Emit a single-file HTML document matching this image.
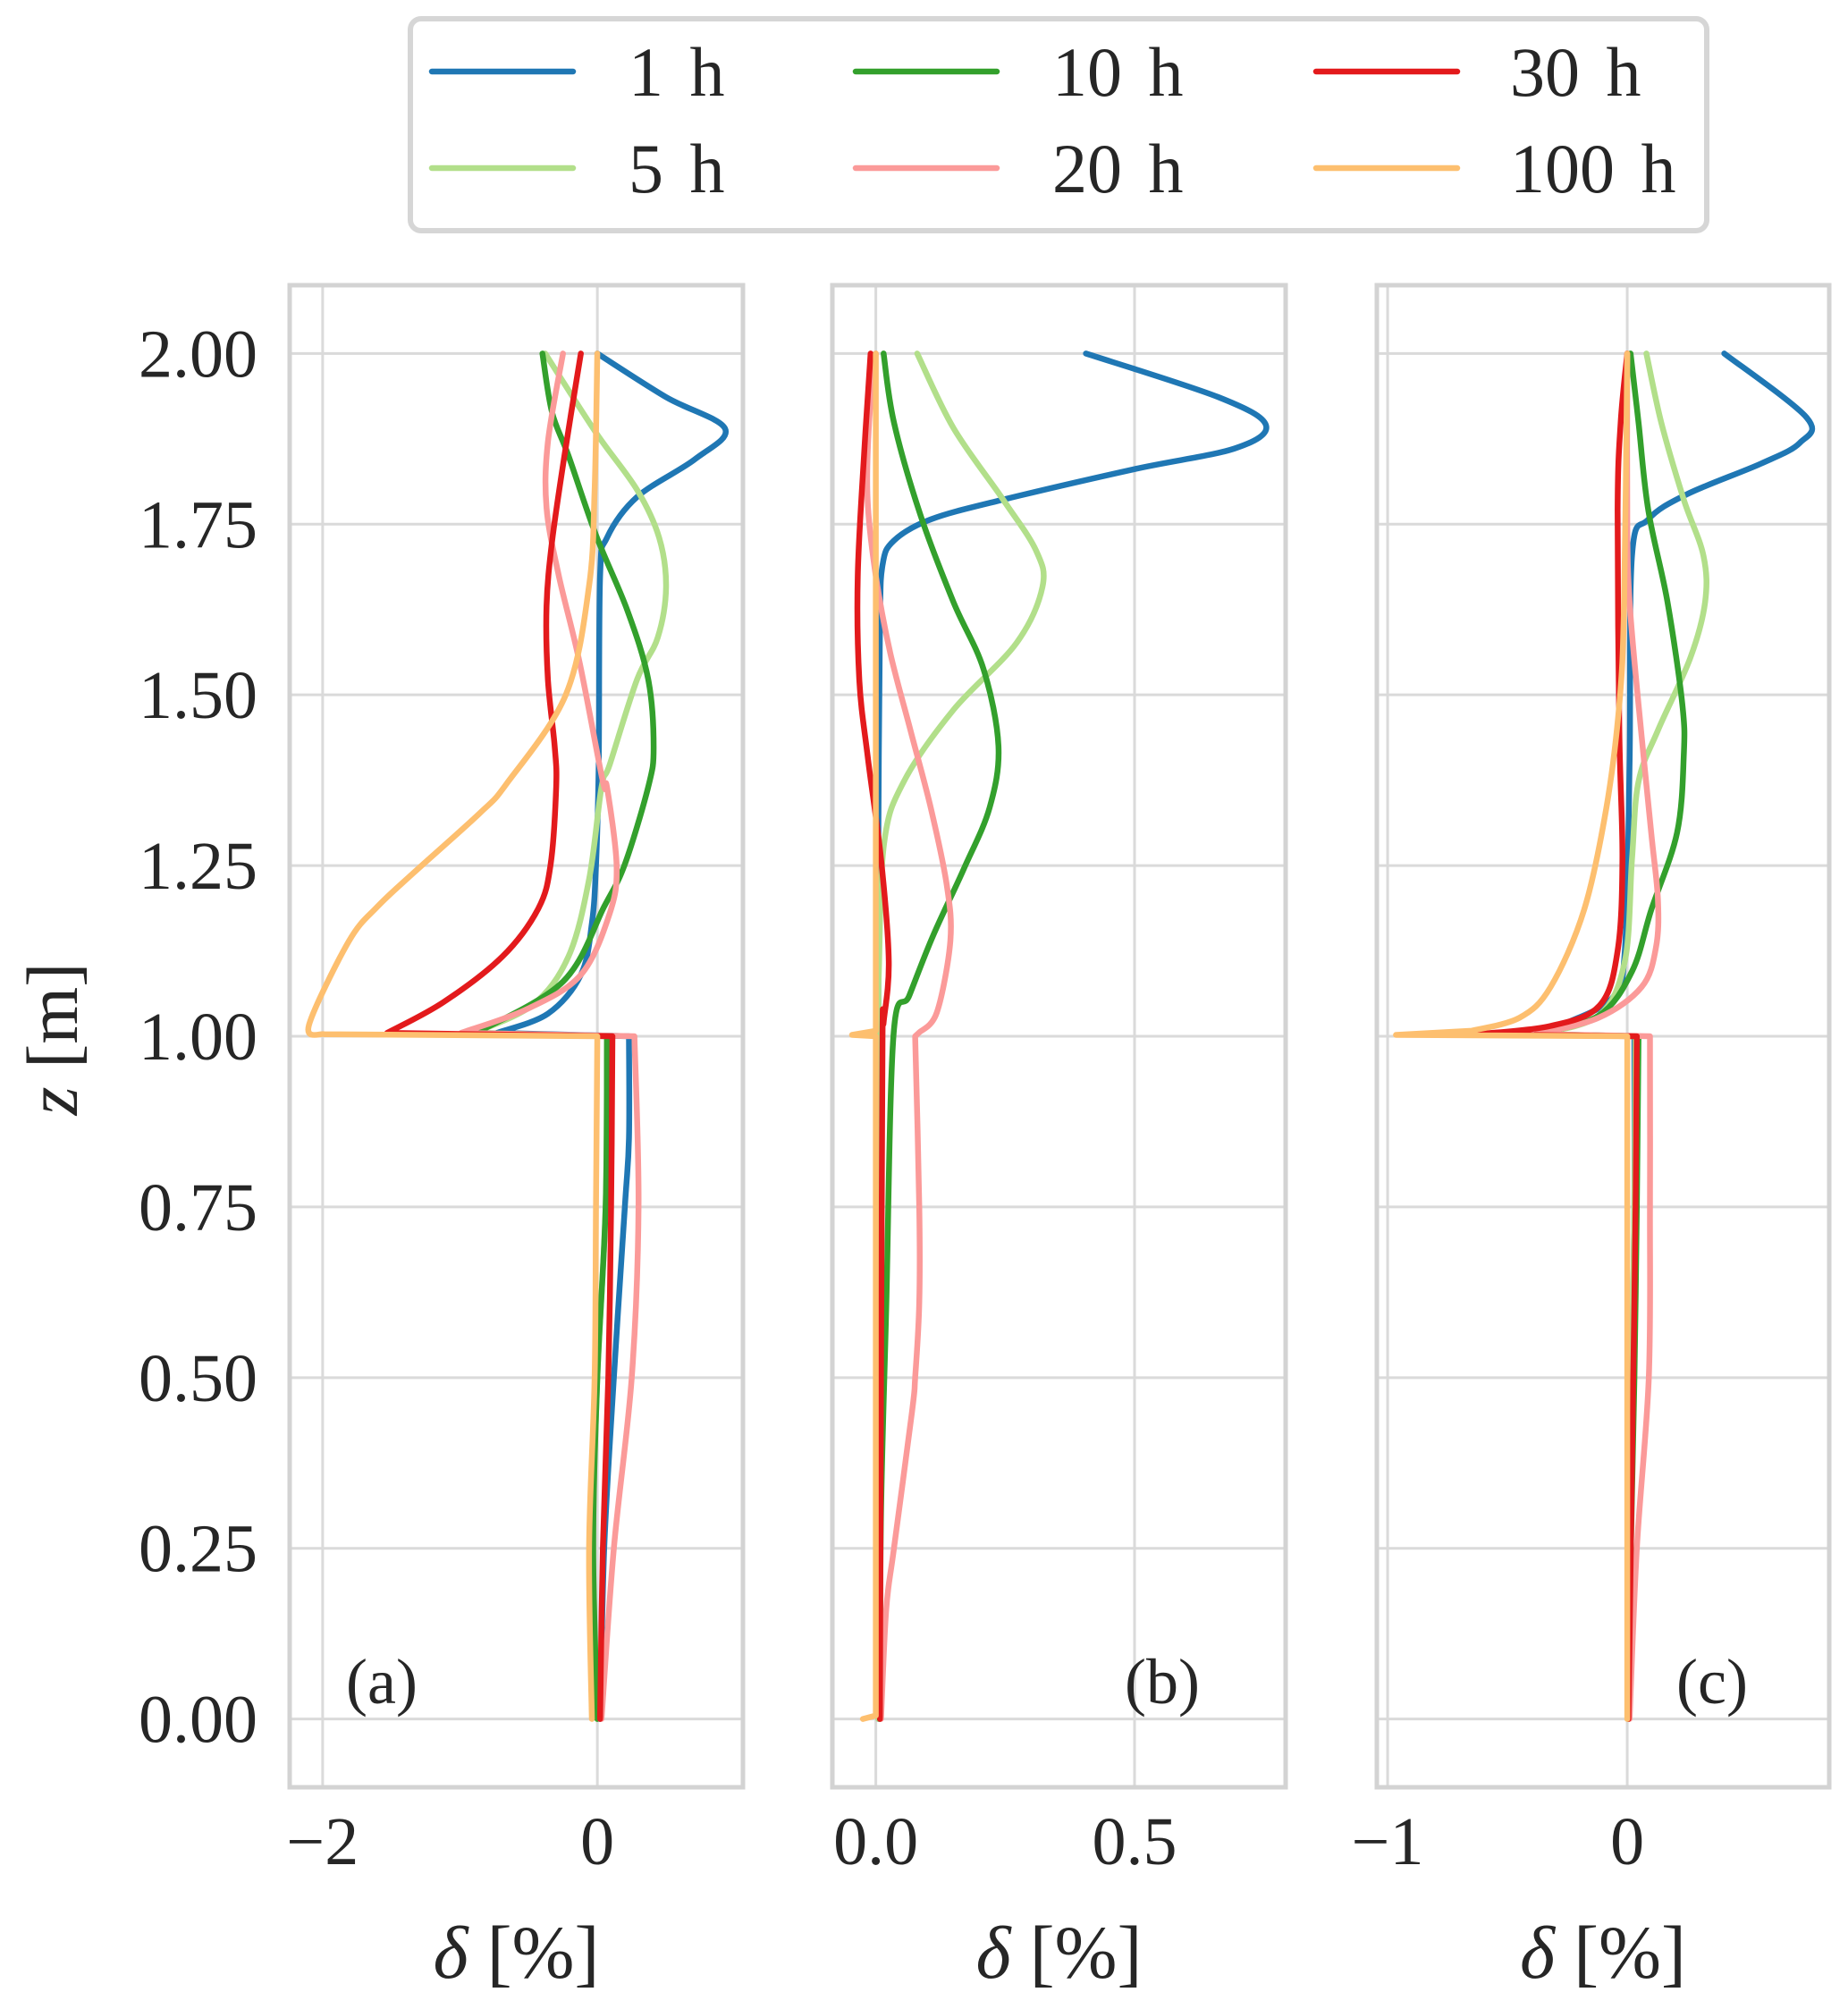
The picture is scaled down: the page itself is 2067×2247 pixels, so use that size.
<!DOCTYPE html>
<html><head><meta charset="utf-8"><style>
html,body{margin:0;padding:0;background:#fff;}
svg{display:block;}
text{font-family:"Liberation Serif","DejaVu Serif",serif;fill:#262626;}
</style></head><body>
<svg id="chart" width="2067" height="2247" viewBox="0 0 2067 2247" xmlns="http://www.w3.org/2000/svg">
<g id="legend">
<rect x="459" y="21" width="1450" height="237" rx="12" fill="#fff" stroke="#d6d6d6" stroke-width="6"/>
</g>
<g id="axes"></g>
<text transform="translate(86,1162) rotate(-90)" text-anchor="middle" font-size="82"><tspan font-style="italic">z</tspan> [m]</text>
</svg>
<script>
// ---- data (z in m, delta in %) ----
const legendLabels = ["1 h","5 h","10 h","20 h","30 h","100 h"];
const seriesColors = ["#1f77b4","#b2df8a","#33a02c","#fb9a99","#e31a1c","#fdbf6f"];
const panelLabels = ["(a)","(b)","(c)"];
const yTicks = [0,0.25,0.5,0.75,1.0,1.25,1.5,1.75,2.0];
const yTickLabels = ["0.00","0.25","0.50","0.75","1.00","1.25","1.50","1.75","2.00"];
const xTicksA = [-2,0]; const xTickLabelsA = ["\u22122","0"];
const xTicksB = [0,0.5]; const xTickLabelsB = ["0.0","0.5"];
const xTicksC = [-1,0]; const xTickLabelsC = ["\u22121","0"];

// Panel (a)
const a1_z = [2.0,1.936,1.89,1.845,1.79,1.73,1.674,1.4,1.25,1.165,1.09,1.033,1.005,1.0,0.85,0.75,0.5,0.25,0.0];
const a1_d = [0.0,0.5,0.93,0.71,0.29,0.07,0.02,0.01,-0.01,-0.04,-0.12,-0.36,-0.73,0.23,0.23,0.2,0.12,0.05,0.02];
const a5_z = [2.0,1.884,1.80,1.73,1.658,1.584,1.523,1.398,1.365,1.23,1.117,1.046,1.005,1.0,0.75,0.5,0.25,0.0];
const a5_d = [-0.38,-0.01,0.29,0.45,0.5,0.44,0.29,0.09,0.03,-0.06,-0.21,-0.47,-0.9,0.07,0.06,0.0,-0.03,0.0];
const a10_z = [2.0,1.914,1.85,1.734,1.623,1.523,1.423,1.365,1.252,1.19,1.08,1.005,1.0,0.75,0.5,0.25,0.0];
const a10_d = [-0.4,-0.33,-0.21,-0.01,0.22,0.37,0.41,0.37,0.2,0.05,-0.25,-0.88,0.07,0.06,0.0,-0.03,0.0];
const a20_z = [2.0,1.87,1.774,1.674,1.548,1.373,1.365,1.25,1.18,1.09,1.04,1.005,1.0,0.75,0.5,0.25,0.0];
const a20_d = [-0.25,-0.36,-0.37,-0.28,-0.13,0.04,0.07,0.14,0.09,-0.12,-0.51,-0.99,0.27,0.3,0.25,0.12,0.03];
const a30_z = [2.0,1.85,1.724,1.63,1.523,1.423,1.365,1.252,1.187,1.117,1.05,1.005,1.0,0.75,0.5,0.25,0.0];
const a30_d = [-0.12,-0.24,-0.33,-0.37,-0.36,-0.31,-0.3,-0.34,-0.43,-0.69,-1.12,-1.53,0.11,0.1,0.08,0.04,0.02];
const a100_z = [2.0,1.8,1.66,1.5,1.37,1.326,1.239,1.19,1.139,1.016,1.003,1.0,0.75,0.5,0.25,0.0];
const a100_d = [0.0,-0.02,-0.06,-0.23,-0.66,-0.86,-1.34,-1.6,-1.81,-2.1,-1.99,0.0,-0.01,-0.02,-0.06,-0.04];

// Panel (b)
const b1_z = [2.0,1.936,1.895,1.861,1.831,1.786,1.757,1.726,1.69,1.6,1.3,1.02,1.0,0.5,0.0];
const b1_d = [0.406,0.662,0.754,0.694,0.502,0.246,0.106,0.035,0.013,0.008,0.005,0.005,0.005,0.005,0.005];
const b5_z = [2.0,1.891,1.786,1.711,1.658,1.576,1.478,1.373,1.283,1.1,1.0,0.5,0.0];
const b5_d = [0.08,0.15,0.246,0.31,0.322,0.272,0.15,0.054,0.016,0.006,0.005,0.005,0.005];
const b10_z = [2.0,1.899,1.764,1.636,1.538,1.425,1.335,1.245,1.148,1.06,1.0,0.6,0.3,0.0];
const b10_d = [0.015,0.035,0.086,0.15,0.208,0.237,0.22,0.17,0.111,0.065,0.034,0.02,0.01,0.008];
const b20_z = [2.0,1.899,1.786,1.674,1.561,1.448,1.335,1.222,1.14,1.035,1.005,1.0,0.75,0.61,0.5,0.45,0.25,0.16,0.0];
const b20_d = [0.0,-0.013,-0.016,0.0,0.028,0.067,0.106,0.137,0.144,0.118,0.083,0.076,0.084,0.084,0.076,0.07,0.035,0.02,0.01];
const b30_z = [2.0,1.861,1.674,1.523,1.411,1.26,1.11,1.02,1.0,0.5,0.0];
const b30_d = [-0.01,-0.022,-0.035,-0.032,-0.016,0.01,0.025,0.015,0.013,0.01,0.008];
const b100_z = [2.0,1.5,1.008,1.002,1.0,0.5,0.005,0.0];
const b100_d = [0.0,0.0,0.0,-0.046,0.0,0.0,0.0,-0.025];

// Panel (c)
const c1_z = [2.0,1.906,1.869,1.839,1.794,1.757,1.704,1.4,1.125,1.057,1.02,1.003,1.0,0.75,0.5,0.25,0.0];
const c1_d = [0.405,0.749,0.72,0.56,0.25,0.088,0.02,0.01,-0.01,-0.06,-0.25,-0.38,0.03,0.03,0.02,0.01,0.005];
const c5_z = [2.0,1.899,1.786,1.704,1.636,1.554,1.448,1.373,1.26,1.11,1.03,1.003,1.0,0.75,0.5,0.25,0.0];
const c5_d = [0.08,0.142,0.236,0.318,0.325,0.263,0.128,0.047,0.02,-0.01,-0.12,-0.38,0.035,0.03,0.02,0.01,0.005];
const c10_z = [2.0,1.899,1.77,1.636,1.486,1.411,1.298,1.185,1.095,1.03,1.003,1.0,0.75,0.5,0.25,0.0];
const c10_d = [0.014,0.047,0.088,0.168,0.23,0.236,0.208,0.1,0.02,-0.12,-0.38,0.047,0.04,0.03,0.015,0.005];
const c20_z = [2.0,1.75,1.636,1.486,1.298,1.2,1.13,1.072,1.027,1.003,1.0,0.75,0.5,0.25,0.0];
const c20_d = [0.0,0.0,0.01,0.047,0.1,0.128,0.12,0.06,-0.12,-0.38,0.095,0.095,0.09,0.04,0.01];
const c30_z = [2.0,1.9,1.77,1.448,1.26,1.125,1.045,1.015,1.003,1.0,0.75,0.5,0.25,0.0];
const c30_d = [0.0,-0.027,-0.04,-0.033,-0.02,-0.04,-0.115,-0.32,-0.63,0.04,0.035,0.025,0.015,0.005];
const c100_z = [2.0,1.636,1.486,1.335,1.185,1.072,1.027,1.008,1.002,1.0,0.5,0.0];
const c100_d = [0.0,-0.013,-0.033,-0.087,-0.18,-0.32,-0.45,-0.65,-0.965,0.0,0.0,0.0];

const panelZ = [[a1_z,a5_z,a10_z,a20_z,a30_z,a100_z],[b1_z,b5_z,b10_z,b20_z,b30_z,b100_z],[c1_z,c5_z,c10_z,c20_z,c30_z,c100_z]];
const panelD = [[a1_d,a5_d,a10_d,a20_d,a30_d,a100_d],[b1_d,b5_d,b10_d,b20_d,b30_d,b100_d],[c1_d,c5_d,c10_d,c20_d,c30_d,c100_d]];
const panelXTicks = [xTicksA,xTicksB,xTicksC];
const panelXTickLabels = [xTickLabelsA,xTickLabelsB,xTickLabelsC];
const panelXLim = [[-2.24,1.06],[-0.084,0.792],[-1.045,0.843]];
const zLim = [-0.1,2.1];

// ---- layout ----
const NS = "http://www.w3.org/2000/svg";
const svg = document.getElementById('chart');
const axesG = document.getElementById('axes');
const panelBox = [[324,831],[931,1438],[1540,2046]];
const yTop = 319, yBot = 1999;
const panelLabelX = [427,1300,1915];
function mk(tag, attrs, parent){ const e=document.createElementNS(NS,tag); for(const k in attrs) e.setAttribute(k,attrs[k]); (parent||svg).appendChild(e); return e; }
function yScale(z){ return yBot - (z - zLim[0])/(zLim[1]-zLim[0])*(yBot-yTop); }
function xScale(p, v){ const [l,r]=panelBox[p]; const [a,b]=panelXLim[p]; return l + (v-a)/(b-a)*(r-l); }

// smooth path: Catmull-Rom within runs, straight across near-horizontal jumps
function smoothPath(pts){
  const runs=[]; let cur=[pts[0]];
  for(let i=1;i<pts.length;i++){
    const dz=Math.abs(pts[i][1]-pts[i-1][1]);
    if(dz<6){ runs.push(cur); cur=[pts[i]]; }
    else cur.push(pts[i]);
  }
  runs.push(cur);
  let d='M'+pts[0][0].toFixed(1)+','+pts[0][1].toFixed(1);
  runs.forEach((run,ri)=>{
    if(ri>0) d+='L'+run[0][0].toFixed(1)+','+run[0][1].toFixed(1);
    for(let i=0;i<run.length-1;i++){
      const p0=run[Math.max(0,i-1)], p1=run[i], p2=run[i+1], p3=run[Math.min(run.length-1,i+2)];
      const c1x=p1[0]+(p2[0]-p0[0])/6, c1y=p1[1]+(p2[1]-p0[1])/6;
      const c2x=p2[0]-(p3[0]-p1[0])/6, c2y=p2[1]-(p3[1]-p1[1])/6;
      d+='C'+c1x.toFixed(1)+','+c1y.toFixed(1)+' '+c2x.toFixed(1)+','+c2y.toFixed(1)+' '+p2[0].toFixed(1)+','+p2[1].toFixed(1);
    }
  });
  return d;
}

const defs = mk('defs',{});
for(let p=0;p<3;p++){
  const [l,r]=panelBox[p];
  const cp = mk('clipPath',{id:'clip'+p},defs);
  mk('rect',{x:l,y:yTop,width:r-l,height:yBot-yTop},cp);
  const g = mk('g',{},axesG);
  
  
  yTicks.forEach((t,i)=>{
    const y=yScale(t);
    const ln = mk('line',{x1:l,x2:r,y1:y,y2:y,stroke:'#dadada','stroke-width':3},g);
    
    
    if(p===0){
      const tx = mk('text',{x:288,y:y+26,'text-anchor':'end','font-size':76},svg);
      tx.textContent = yTickLabels[i];
      
      
    }
  });
  panelXTicks[p].forEach((t,i)=>{
    const x=xScale(p,t);
    const ln = mk('line',{x1:x,x2:x,y1:yTop,y2:yBot,stroke:'#dadada','stroke-width':3},g);
    
    
    const tx = mk('text',{x:x,y:2085,'text-anchor':'middle','font-size':76},svg);
    tx.textContent = panelXTickLabels[p][i];
    
    
  });
  for(let s=0;s<6;s++){
    const zs=panelZ[p][s], ds=panelD[p][s];
    const pts=zs.map((z,k)=>[xScale(p,ds[k]),yScale(z)]);
    const path = mk('path',{d:smoothPath(pts),fill:'none',stroke:seriesColors[s],'stroke-width':6.5,'stroke-linejoin':'round','stroke-linecap':'round','clip-path':'url(#clip'+p+')'},g);
    
    
  }
  const fr = mk('rect',{x:l,y:yTop,width:r-l,height:yBot-yTop,fill:'none',stroke:'#d3d3d3','stroke-width':5},g);
  
  
  const pl = mk('text',{x:panelLabelX[p],y:1905,'text-anchor':'middle','font-size':72},svg);
  pl.textContent = panelLabels[p];
  
  
  const xl = mk('text',{x:(l+r)/2,y:2212,'text-anchor':'middle','font-size':84},svg);
  xl.innerHTML = '<tspan font-style="italic">\u03b4</tspan> [%]';
  
  
}

const legG = document.getElementById('legend');
const legHandleX = [483,957,1472];
const legTextX = [703,1177,1689];
const legRowY = [80,188];
for(let s=0;s<6;s++){
  const col = Math.floor(s/2), row = s%2;
  const g = mk('g',{},legG);
  
  
  mk('line',{x1:legHandleX[col],x2:legHandleX[col]+158,y1:legRowY[row],y2:legRowY[row],stroke:seriesColors[s],'stroke-width':6.5,'stroke-linecap':'round'},g);
  const t = mk('text',{x:legTextX[col],y:legRowY[row]+27,'font-size':78,'word-spacing':'10'},g);
  t.textContent = legendLabels[s];
}
</script>
</body></html>
